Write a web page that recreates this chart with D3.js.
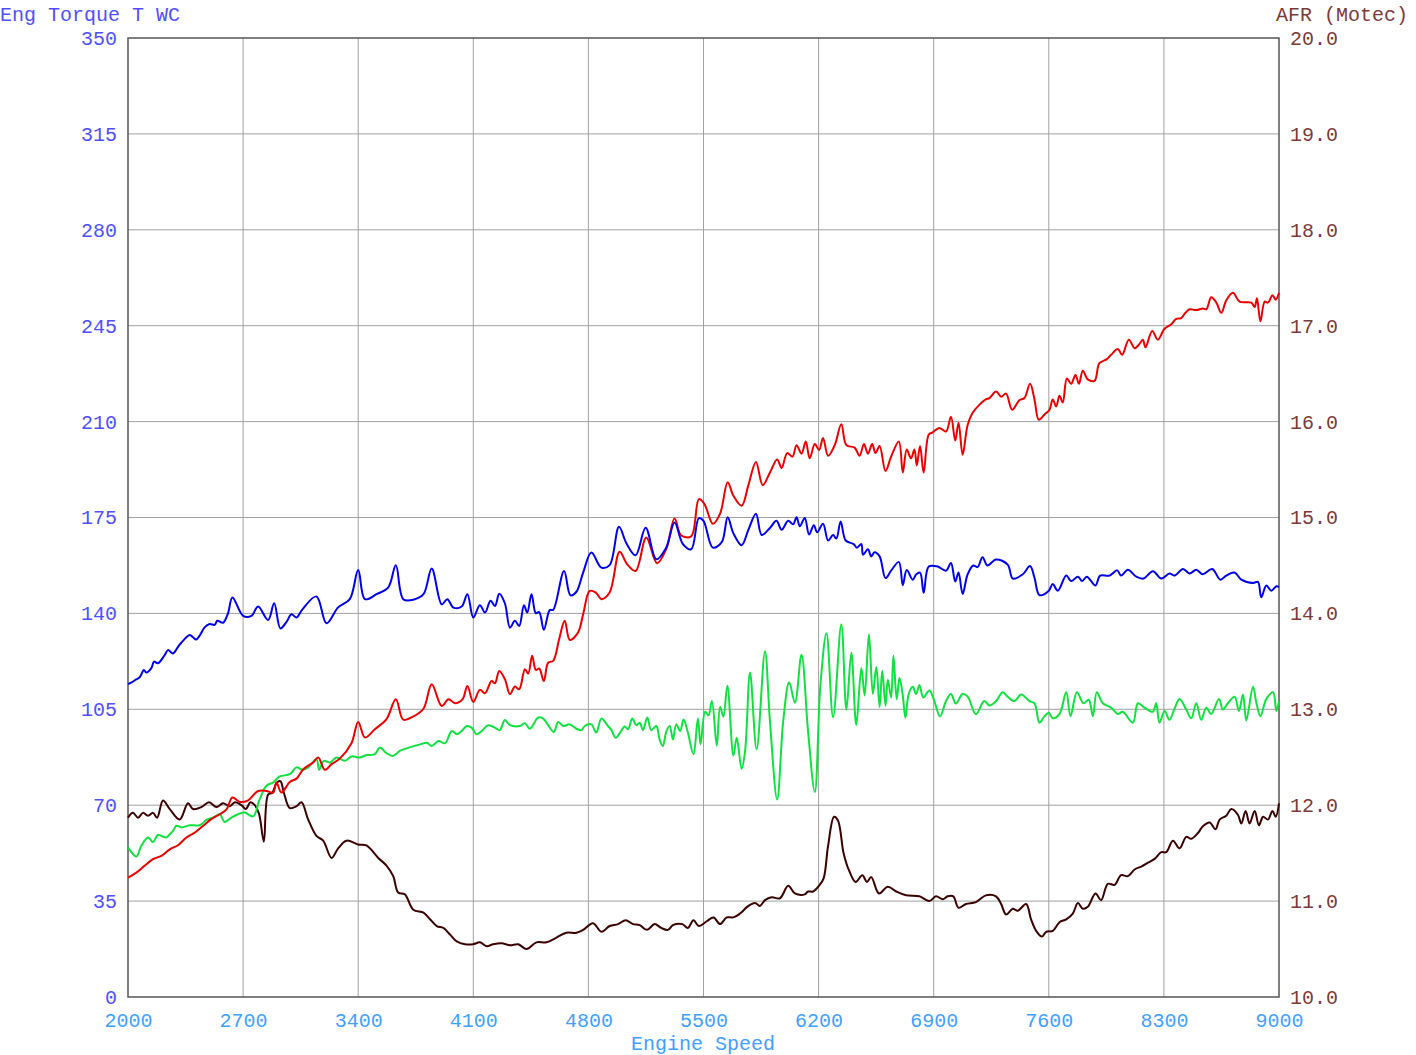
<!DOCTYPE html>
<html lang="en">
<head>
  <meta charset="UTF-8">
  <title>Dyno: Torque / AFR vs Engine Speed</title>
  <script src="https://d3js.org/d3.v7.min.js"></script>
  <style>
    body { margin: 0; background: #fff; }
    text { font-family: "Courier New", "Liberation Mono", monospace; font-size: 20px; }
  </style>
</head>
<body>
<div id="chart"></div>
<script>

// axis ticks
const rpmTicks = [2000, 2700, 3400, 4100, 4800, 5500, 6200, 6900, 7600, 8300, 9000];
const torqueTicks = [0, 35, 70, 105, 140, 175, 210, 245, 280, 315, 350];
const afrTicks = [10, 11, 12, 13, 14, 15, 16, 17, 18, 19, 20];

// blue trace - Eng Torque T WC  [rpm, value]
const torqueData = [
  [2000,114.2],[2010,114.5],[2030,115.1],[2050,115.9],[2071,116.7],[2097,119.3],[2111,118.4],[2142,120.0],
  [2158,122.4],[2182,121.8],[2223,124.8],[2243,126.6],[2274,125.4],[2304,127.8],[2324,129.3],[2375,132.1],
  [2395,131.3],[2415,130.5],[2438,132.1],[2466,134.9],[2497,136.1],[2527,135.8],[2543,137.3],[2578,136.6],
  [2608,140.0],[2635,145.8],[2700,139.1],[2751,139.1],[2791,142.5],[2852,137.6],
  [2889,143.7],[2927,134.5],[2964,136.9],[2994,139.7],[3025,138.5],[3061,141.5],[3146,146.2],[3207,136.4],
  [3278,142.2],[3349,145.2],[3400,155.8],[3441,145.2],[3512,147.0],[3583,149.5],[3629,157.6],[3674,145.2],
  [3735,145.0],[3797,147.0],[3847,156.4],[3908,143.3],[3942,145.2],[3979,142.1],[4029,142.5],[4064,147.0],
  [4100,138.5],[4140,143.0],[4171,140.3],[4205,144.6],[4232,142.7],[4258,147.2],[4292,143.7],[4323,134.8],
  [4353,137.3],[4379,135.4],[4408,143.0],[4428,140.3],[4454,147.0],[4480,140.1],[4501,140.5],[4529,134.0],
  [4565,141.2],[4586,141.3],[4652,155.5],[4691,146.6],[4727,147.9],[4768,154.9],[4818,162.2],[4879,156.7],
  [4929,157.6],[4986,171.6],[5031,165.6],[5087,161.2],[5148,171.3],[5213,159.8],[5273,164.0],[5324,173.2],
  [5375,165.3],[5425,163.4],[5472,174.8],[5500,173.8],[5557,164.0],[5611,166.0],[5647,175.1],[5682,169.2],
  [5732,164.9],[5773,170.5],[5819,176.4],[5854,168.6],[5904,171.2],[5944,173.8],[5975,170.5],[6015,173.8],
  [6045,172.5],[6066,175.1],[6086,171.8],[6116,174.8],[6142,168.8],[6171,172.2],[6191,169.6],[6227,172.7],
  [6258,166.6],[6288,168.6],[6308,167.3],[6334,173.5],[6365,166.6],[6413,165.3],[6433,164.0],[6460,165.3],
  [6470,161.4],[6500,163.4],[6520,160.8],[6540,162.3],[6571,160.8],[6607,152.9],[6641,155.6],[6688,158.8],
  [6712,150.3],[6736,155.8],[6773,152.3],[6793,154.2],[6817,154.9],[6839,147.5],[6870,157.1],[6924,157.1],
  [6975,155.6],[7005,158.4],[7031,151.6],[7051,154.9],[7076,147.1],[7106,154.2],[7140,157.5],[7167,156.9],
  [7197,160.5],[7227,157.5],[7279,159.7],[7350,157.8],[7381,152.7],[7442,154.3],[7486,157.3],[7513,153.0],
  [7543,146.7],[7600,148.3],[7624,150.7],[7655,148.3],[7706,153.8],[7736,151.8],[7777,153.4],[7803,151.8],
  [7831,153.4],[7884,150.2],[7912,153.8],[7969,153.8],[8016,155.7],[8040,153.8],[8081,155.9],[8132,153.4],
  [8176,152.7],[8233,155.4],[8284,152.7],[8334,154.6],[8365,153.8],[8416,156.2],[8456,154.6],[8497,155.9],
  [8537,154.3],[8594,156.2],[8643,152.3],[8679,153.8],[8730,154.9],[8771,152.3],[8842,151.1],[8872,151.5],
  [8892,145.9],[8923,150.2],[8953,148.3],[8984,149.9],[9000,149.6]
];

// red trace (left axis units)
const redData = [
  [2000,43.6],[2051,45.4],[2101,47.9],[2152,50.3],[2203,51.5],[2254,53.9],[2304,55.4],[2355,58.2],
  [2406,60.0],[2457,62.5],[2507,64.9],[2558,66.7],[2599,68.5],[2635,72.8],[2680,71.2],[2731,71.8],
  [2791,75.2],[2842,75.2],[2883,74.6],[2903,78.3],[2933,74.6],[2984,78.5],[3025,79.7],[3066,83.1],
  [3126,85.6],[3157,87.4],[3197,82.9],[3238,85.0],[3288,87.0],[3359,92.6],[3400,100.4],[3441,94.7],
  [3501,97.7],[3572,101.4],[3629,108.7],[3674,101.2],[3735,102.4],[3797,105.2],[3847,114.1],[3908,106.2],
  [3949,108.7],[3989,107.2],[4035,108.7],[4064,113.5],[4100,107.7],[4140,112.1],[4171,110.9],[4211,115.3],
  [4232,114.5],[4258,119.0],[4292,116.0],[4323,110.5],[4353,113.3],[4379,112.3],[4414,119.6],[4434,118.1],
  [4458,124.5],[4480,119.4],[4501,119.9],[4529,115.3],[4555,122.0],[4586,122.7],[4622,130.6],[4656,137.3],
  [4687,130.3],[4737,133.0],[4768,139.7],[4808,148.2],[4845,147.6],[4879,145.2],[4929,147.6],[4990,162.5],
  [5035,158.0],[5087,155.5],[5152,167.7],[5217,158.3],[5273,163.4],[5324,174.6],[5364,168.5],[5425,168.1],
  [5472,181.7],[5506,179.9],[5557,172.7],[5601,176.4],[5647,187.9],[5682,182.9],[5732,179.3],[5773,186.8],
  [5819,195.3],[5860,186.8],[5904,191.4],[5948,196.2],[5975,193.1],[6009,198.5],[6041,197.2],[6066,201.4],
  [6096,198.3],[6122,202.7],[6146,196.6],[6177,201.8],[6203,199.6],[6227,204.0],[6258,197.5],[6298,201.4],
  [6338,209.0],[6369,201.4],[6419,200.5],[6449,197.5],[6476,201.8],[6500,198.3],[6526,201.8],[6546,198.5],
  [6571,201.1],[6607,192.0],[6641,197.2],[6688,202.7],[6712,191.4],[6736,199.8],[6762,196.6],[6783,199.8],
  [6797,194.0],[6817,201.1],[6839,191.4],[6870,205.3],[6894,206.1],[6934,207.7],[6975,206.4],[7005,211.8],
  [7031,203.1],[7051,209.6],[7076,197.9],[7106,208.7],[7136,213.1],[7177,216.1],[7217,218.1],[7239,218.6],
  [7279,221.0],[7310,219.1],[7340,220.2],[7377,214.3],[7421,217.8],[7452,218.6],[7486,223.8],[7513,218.1],
  [7539,210.7],[7574,212.6],[7604,214.3],[7624,218.1],[7645,215.5],[7665,219.4],[7685,217.0],[7710,225.7],
  [7736,223.8],[7762,227.0],[7783,223.8],[7807,228.6],[7837,225.4],[7878,224.9],[7908,231.3],[7953,232.8],
  [7979,234.4],[8020,236.5],[8046,234.4],[8087,239.9],[8122,236.8],[8148,238.1],[8172,239.9],[8188,237.1],
  [8229,243.1],[8263,239.9],[8304,243.9],[8345,245.5],[8375,247.5],[8405,247.8],[8431,249.7],[8456,251.0],
  [8497,250.7],[8537,251.3],[8558,251.0],[8588,255.4],[8619,253.4],[8649,249.7],[8679,254.2],[8720,257.0],
  [8760,253.8],[8832,253.4],[8852,251.8],[8866,255.0],[8887,246.6],[8913,253.8],[8933,253.4],[8960,256.1],
  [8980,254.5],[9000,257.0]
];

// green trace (left axis units)
const greenData = [
  [2000,54.6],[2051,51.3],[2081,55.2],[2122,58.2],[2152,56.6],[2182,59.1],[2233,58.2],[2254,59.4],
  [2274,60.6],[2294,62.5],[2325,61.9],[2375,62.7],[2436,62.7],[2477,64.6],[2518,65.5],[2558,66.7],
  [2588,63.9],[2629,65.5],[2669,66.7],[2710,67.3],[2761,65.9],[2801,72.2],[2842,77.1],[2883,78.3],
  [2923,80.5],[2984,81.3],[3025,83.8],[3061,82.9],[3096,83.8],[3146,86.8],[3163,82.9],[3191,86.2],
  [3228,85.6],[3268,87.4],[3319,86.2],[3359,87.8],[3410,87.4],[3450,88.3],[3501,88.6],[3532,91.1],
  [3572,89.0],[3613,88.0],[3653,89.8],[3714,91.1],[3777,92.2],[3817,92.8],[3847,91.6],[3888,93.4],
  [3928,92.6],[3969,97.1],[3999,95.9],[4029,97.1],[4060,98.9],[4090,98.3],[4120,95.9],[4151,97.1],
  [4191,99.2],[4242,97.9],[4262,97.4],[4292,101.1],[4323,99.2],[4383,98.9],[4414,99.9],[4444,97.9],
  [4495,102.0],[4525,101.6],[4555,99.2],[4590,96.7],[4616,100.4],[4646,98.9],[4687,99.5],[4727,97.9],
  [4758,97.4],[4778,98.9],[4818,99.5],[4848,96.5],[4879,101.6],[4919,98.9],[4940,97.4],[4966,94.6],
  [4990,96.2],[5021,98.7],[5041,97.7],[5067,101.6],[5091,99.2],[5112,100.1],[5132,97.4],[5158,102.0],
  [5182,97.4],[5213,98.9],[5233,94.0],[5253,91.6],[5273,96.7],[5294,98.9],[5314,94.0],[5334,99.5],
  [5358,97.1],[5379,101.3],[5405,96.5],[5439,88.6],[5466,101.6],[5482,92.2],[5510,104.1],[5530,102.8],
  [5551,108.0],[5581,91.7],[5601,105.8],[5621,102.4],[5645,113.6],[5682,88.1],[5702,94.6],[5732,83.3],
  [5753,89.8],[5783,118.4],[5823,90.4],[5874,126.2],[5904,100.8],[5948,72.1],[5985,100.8],[6021,114.9],
  [6056,107.4],[6096,124.9],[6136,96.9],[6177,74.8],[6211,113.9],[6248,132.8],[6288,102.1],[6338,136.0],
  [6369,104.8],[6399,125.6],[6429,99.3],[6460,120.1],[6480,110.0],[6506,132.4],[6530,110.6],[6551,120.4],
  [6571,105.8],[6587,119.1],[6607,106.3],[6621,115.8],[6641,109.3],[6655,124.5],[6675,108.7],[6692,116.5],
  [6712,110.0],[6728,101.9],[6748,110.6],[6773,113.2],[6793,110.6],[6813,113.9],[6837,109.3],[6874,111.9],
  [6904,108.0],[6938,102.4],[6975,108.0],[7005,110.6],[7035,107.1],[7076,110.6],[7106,109.7],[7157,103.2],
  [7207,108.0],[7239,106.4],[7279,108.0],[7320,111.2],[7350,109.6],[7391,108.0],[7432,110.4],[7482,108.0],
  [7513,107.2],[7543,100.1],[7574,102.5],[7600,103.7],[7624,101.7],[7665,103.3],[7706,111.2],[7732,102.5],
  [7771,111.2],[7811,107.2],[7843,108.5],[7868,102.5],[7892,111.2],[7929,107.2],[7979,105.6],[8020,103.3],
  [8050,104.1],[8111,100.1],[8142,107.2],[8182,105.6],[8233,104.1],[8253,107.2],[8273,100.1],[8304,104.4],
  [8334,101.2],[8365,105.3],[8395,108.8],[8436,104.9],[8466,101.7],[8497,107.2],[8527,101.2],[8558,105.6],
  [8588,103.3],[8635,108.8],[8659,104.9],[8689,107.2],[8730,109.6],[8756,104.4],[8781,110.4],[8801,100.9],
  [8842,113.2],[8862,107.5],[8887,102.5],[8923,108.8],[8964,111.2],[8984,104.4],[9000,108.0]
];

// dark trace - AFR (Motec), right axis
const afrData = [
  [2000,11.87],[2030,11.92],[2061,11.87],[2091,11.92],[2122,11.89],[2152,11.92],[2177,11.87],[2213,12.05],
  [2254,11.96],[2314,11.85],[2365,12.02],[2396,11.96],[2446,11.98],[2493,12.03],[2538,11.98],[2578,12.02],
  [2619,11.99],[2650,12.03],[2690,12.00],[2716,11.96],[2745,12.03],[2771,12.00],[2797,11.91],[2826,11.62],
  [2852,12.11],[2878,12.13],[2903,12.23],[2927,12.25],[2948,12.13],[2984,11.97],[3025,11.99],[3055,12.03],
  [3096,11.85],[3146,11.68],[3187,11.63],[3238,11.45],[3278,11.55],[3329,11.63],[3400,11.59],[3450,11.58],
  [3522,11.45],[3572,11.37],[3613,11.26],[3643,11.09],[3684,11.07],[3735,10.91],[3797,10.88],[3837,10.81],
  [3878,10.74],[3918,10.72],[3959,10.65],[3999,10.58],[4049,10.55],[4100,10.55],[4140,10.57],[4181,10.53],
  [4221,10.55],[4272,10.56],[4323,10.54],[4373,10.55],[4424,10.50],[4484,10.57],[4545,10.57],[4606,10.62],
  [4666,10.67],[4727,10.67],[4768,10.70],[4828,10.77],[4879,10.68],[4929,10.74],[4980,10.76],[5027,10.80],
  [5071,10.76],[5112,10.75],[5156,10.70],[5203,10.76],[5243,10.72],[5284,10.70],[5314,10.75],[5371,10.76],
  [5405,10.72],[5439,10.80],[5472,10.74],[5520,10.79],[5561,10.83],[5601,10.76],[5641,10.83],[5682,10.83],
  [5722,10.87],[5773,10.95],[5813,10.98],[5843,10.95],[5874,11.01],[5914,11.04],[5965,11.03],[6015,11.16],
  [6056,11.08],[6116,11.07],[6136,11.10],[6167,11.10],[6207,11.17],[6231,11.24],[6258,11.58],[6294,11.88],
  [6318,11.84],[6352,11.50],[6385,11.32],[6425,11.20],[6466,11.27],[6494,11.20],[6520,11.25],[6567,11.08],
  [6621,11.15],[6672,11.10],[6732,11.06],[6813,11.05],[6874,11.00],[6914,11.05],[6955,11.02],[6985,11.05],
  [7019,11.05],[7051,10.93],[7096,10.97],[7157,10.99],[7217,11.06],[7279,11.05],[7310,10.97],[7340,10.86],
  [7381,10.92],[7411,10.90],[7462,10.97],[7492,10.81],[7523,10.69],[7559,10.63],[7584,10.68],[7624,10.69],
  [7665,10.78],[7706,10.81],[7746,10.87],[7777,10.98],[7807,10.92],[7837,10.94],[7884,11.08],[7918,11.01],
  [7959,11.18],[8000,11.17],[8040,11.27],[8081,11.26],[8122,11.33],[8162,11.36],[8203,11.40],[8243,11.44],
  [8284,11.51],[8314,11.51],[8355,11.63],[8395,11.55],[8436,11.67],[8466,11.65],[8507,11.71],[8537,11.78],
  [8578,11.82],[8614,11.75],[8639,11.85],[8679,11.89],[8710,11.96],[8750,11.90],[8771,11.81],[8797,11.94],
  [8821,11.81],[8852,11.94],[8878,11.79],[8903,11.88],[8933,11.85],[8960,11.94],[8980,11.88],[9000,12.02]
];

// basic plot configuration
const width = 1416;
const height = 1055;
const margin = {top: 38, left: 128, right: 137, bottom: 58};

const svg = d3.select("#chart")
  .append("svg")
    .attr("width", width)
    .attr("height", height);

const x = d3.scaleLinear()
  .domain([2000, 9000])
  .range([margin.left, width - margin.right]);

const yL = d3.scaleLinear()
  .domain([0, 350])
  .range([height - margin.bottom, margin.top]);

const yR = d3.scaleLinear()
  .domain([10, 20])
  .range([height - margin.bottom, margin.top]);

// grid
const grid = svg.append("g");
grid.selectAll(".vg")
  .data(rpmTicks.slice(1, -1))
  .enter().append("line")
    .attr("x1", d => x(d)).attr("x2", d => x(d))
    .attr("y1", margin.top).attr("y2", height - margin.bottom)
    .style("stroke", "#a0a0a0").style("stroke-width", 1);
grid.selectAll(".hg")
  .data(torqueTicks.slice(1, -1))
  .enter().append("line")
    .attr("x1", margin.left).attr("x2", width - margin.right)
    .attr("y1", d => yL(d)).attr("y2", d => yL(d))
    .style("stroke", "#a0a0a0").style("stroke-width", 1);

// frame
svg.append("rect")
  .attr("x", margin.left).attr("y", margin.top)
  .attr("width", width - margin.left - margin.right)
  .attr("height", height - margin.top - margin.bottom)
  .style("fill", "none").style("stroke", "#555").style("stroke-width", 1.5);

// axes
const axL = svg.append("g")
  .attr("transform", "translate(" + margin.left + ",0)")
  .call(d3.axisLeft(yL).tickValues(torqueTicks).tickSize(0).tickPadding(11).tickFormat(d3.format("d")));
const axR = svg.append("g")
  .attr("transform", "translate(" + (width - margin.right) + ",0)")
  .call(d3.axisRight(yR).tickValues(afrTicks).tickSize(0).tickPadding(11).tickFormat(d3.format(".1f")));
const axB = svg.append("g")
  .attr("transform", "translate(0," + (height - margin.bottom) + ")")
  .call(d3.axisBottom(x).tickValues(rpmTicks).tickSize(0).tickPadding(16).tickFormat(d3.format("d")));

[axL, axR, axB].forEach(a => {
  a.select(".domain").remove();
  a.selectAll("text").style("font-family", '"Courier New", "Liberation Mono", monospace').style("font-size", "20px");
});
axL.selectAll("text").style("fill", "#4f4fff");
axR.selectAll("text").style("fill", "#7a3a3a");
axB.selectAll("text").style("fill", "#3fa0ff");

// axis titles
svg.append("text")
  .attr("x", 0).attr("y", 21)
  .style("fill", "#4f4fff")
  .text("Eng Torque T WC");

svg.append("text")
  .attr("x", 1408).attr("y", 21)
  .attr("text-anchor", "end")
  .style("fill", "#7a3a3a")
  .text("AFR (Motec)");

svg.append("text")
  .attr("x", 703).attr("y", 1050)
  .attr("text-anchor", "middle")
  .style("fill", "#3fa0ff")
  .text("Engine Speed");

// traces
const lineL = d3.line()
  .x(d => x(d[0])).y(d => yL(d[1]))
  .curve(d3.curveCatmullRom.alpha(0.5));
const lineR = d3.line()
  .x(d => x(d[0])).y(d => yR(d[1]))
  .curve(d3.curveCatmullRom.alpha(0.5));

const plot = svg.append("g");
plot.append("path").datum(afrData)
  .attr("d", lineR)
  .style("fill", "none").style("stroke", "#3a0000").style("stroke-width", 2);
plot.append("path").datum(greenData)
  .attr("d", lineL)
  .style("fill", "none").style("stroke", "#10e040").style("stroke-width", 2);
plot.append("path").datum(redData)
  .attr("d", lineL)
  .style("fill", "none").style("stroke", "#e80000").style("stroke-width", 2);
plot.append("path").datum(torqueData)
  .attr("d", lineL)
  .style("fill", "none").style("stroke", "#0000e6").style("stroke-width", 2);

</script>
</body>
</html>
